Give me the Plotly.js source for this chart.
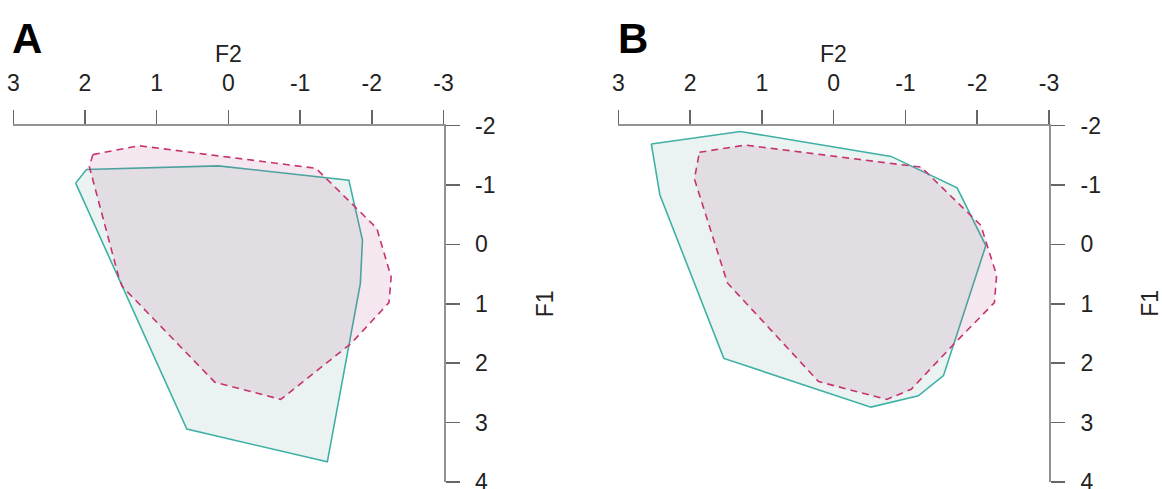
<!DOCTYPE html>
<html>
<head>
<meta charset="utf-8">
<script src="https://cdn.plot.ly/plotly-3.0.1.min.js"></script>
<style>html,body{margin:0;padding:0;background:#fff;}#chart{width:1162px;height:489px;}</style>
</head>
<body>
<div id="chart"></div>
<script>
// Tick labels
const f2Ticks = [3, 2, 1, 0, -1, -2, -3];
const f2TickText = ['3', '2', '1', '0', '-1', '-2', '-3'];
const f1Ticks = [-2, -1, 0, 1, 2, 3, 4];
const f1TickText = ['-2', '-1', '0', '1', '2', '3', '4'];
const panelLabels = ['A', 'B'];

// Panel A hulls (F2, F1)
const aTealF2 = [2.13, 1.98, 0.14, -1.68, -1.87, -1.84, -1.38, 0.58];
const aTealF1 = [-1.03, -1.26, -1.32, -1.08, -0.07, 0.66, 3.66, 3.11];
const aPinkF2 = [1.89, 1.25, -1.22, -2.07, -2.27, -2.24, -1.71, -0.73, 0.19, 1.48, 1.53, 1.94];
const aPinkF1 = [-1.51, -1.66, -1.28, -0.27, 0.55, 0.98, 1.67, 2.61, 2.32, 0.71, 0.55, -1.31];

// Panel B hulls (F2, F1)
const bTealF2 = [2.54, 1.30, -0.80, -1.72, -2.12, -1.53, -1.18, -0.52, 1.53, 2.42];
const bTealF1 = [-1.69, -1.90, -1.48, -0.95, 0.02, 2.21, 2.55, 2.74, 1.92, -0.83];
const bPinkF2 = [1.87, 1.23, -1.08, -1.22, -2.05, -2.27, -2.24, -1.69, -1.08, -0.74, 0.21, 1.48, 1.94];
const bPinkF1 = [-1.55, -1.67, -1.32, -1.30, -0.32, 0.52, 0.98, 1.66, 2.44, 2.61, 2.31, 0.65, -1.10];

const W = 1162, H = 489;
const tealLine = '#3fb0a4', tealFill = 'rgba(80,155,147,0.12)';
const pinkLine = '#c7336f', pinkFill = 'rgba(175,70,135,0.13)';

function close(a) { return a.concat([a[0]]); }

function hull(xs, ys, xa, ya, line, fill, dash) {
  return {
    type: 'scatter', mode: 'lines', x: close(xs), y: close(ys),
    xaxis: xa, yaxis: ya, fill: 'toself', fillcolor: fill,
    line: {color: line, width: 1.6, dash: dash},
    hoverinfo: 'skip', showlegend: false
  };
}

const data = [
  hull(aTealF2, aTealF1, 'x', 'y', tealLine, tealFill, 'solid'),
  hull(aPinkF2, aPinkF1, 'x', 'y', pinkLine, pinkFill, '7px,5px'),
  hull(bTealF2, bTealF1, 'x2', 'y2', tealLine, tealFill, 'solid'),
  hull(bPinkF2, bPinkF1, 'x2', 'y2', pinkLine, pinkFill, '7px,5px')
];

const tickFont = {family: 'Liberation Sans, Arial, sans-serif', size: 23, color: '#222'};
const yDom = [7 / H, 363.5 / H];

function xAxis(dom, anchor) {
  return {
    domain: dom, anchor: anchor, side: 'top', range: [3, -3],
    tickvals: f2Ticks, ticktext: f2TickText, tickfont: tickFont,
    ticks: 'outside', ticklen: 14, tickwidth: 1.5, tickcolor: '#666',
    showline: true, linecolor: '#929292', linewidth: 2,
    showgrid: false, zeroline: false, ticklabelstandoff: 9,
    ticklabeloverflow: 'allow', fixedrange: true
  };
}
function yAxis(anchor) {
  return {
    domain: yDom, anchor: anchor, side: 'right', range: [4, -2],
    tickvals: f1Ticks, ticktext: f1TickText, tickfont: tickFont,
    ticks: 'outside', ticklen: 14, tickwidth: 1.5, tickcolor: '#666',
    showline: true, linecolor: '#929292', linewidth: 2,
    showgrid: false, zeroline: false, ticklabelstandoff: 11,
    ticklabeloverflow: 'allow', fixedrange: true
  };
}

const titleFont = {family: 'Liberation Sans, Arial, sans-serif', size: 23, color: '#222'};
const letterFont = {family: 'Liberation Sans, Arial, sans-serif', size: 42, color: '#000', weight: 'bold'};

const annotations = [
  {text: '<b>' + panelLabels[0] + '</b>', xref: 'paper', yref: 'paper', x: 10 / W, y: 1 - 39 / H, xanchor: 'left', yanchor: 'middle', showarrow: false, font: letterFont},
  {text: '<b>' + panelLabels[1] + '</b>', xref: 'paper', yref: 'paper', x: 616 / W, y: 1 - 39 / H, xanchor: 'left', yanchor: 'middle', showarrow: false, font: letterFont},
  {text: 'F2', xref: 'x', yref: 'paper', x: 0, y: 1 - 54 / H, xanchor: 'center', yanchor: 'middle', showarrow: false, font: titleFont},
  {text: 'F2', xref: 'x2', yref: 'paper', x: 0, y: 1 - 54 / H, xanchor: 'center', yanchor: 'middle', showarrow: false, font: titleFont},
  {text: 'F1', xref: 'paper', yref: 'y', x: 544.5 / W, y: 1, xanchor: 'center', yanchor: 'middle', textangle: -90, showarrow: false, font: titleFont},
  {text: 'F1', xref: 'paper', yref: 'y2', x: 1150 / W, y: 1, xanchor: 'center', yanchor: 'middle', textangle: -90, showarrow: false, font: titleFont}
];

const layout = {
  width: W, height: H, autosize: false,
  margin: {l: 0, r: 0, t: 0, b: 0, pad: 0},
  paper_bgcolor: '#fff', plot_bgcolor: 'rgba(0,0,0,0)',
  showlegend: false,
  xaxis: xAxis([13.3 / W, 443.5 / W], 'y'),
  yaxis: yAxis('x'),
  xaxis2: xAxis([618.3 / W, 1049 / W], 'y2'),
  yaxis2: yAxis('x2'),
  annotations: annotations
};

Plotly.newPlot('chart', data, layout, {staticPlot: true, displayModeBar: false});
</script>
</body>
</html>
